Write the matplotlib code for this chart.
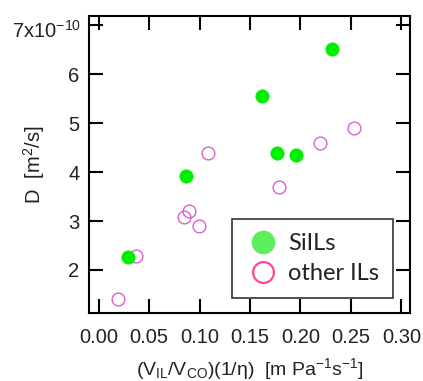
import matplotlib
matplotlib.use("Agg")
import matplotlib.pyplot as plt
from matplotlib.lines import Line2D
import matplotlib.transforms as mtransforms

# Data (D in units of 1e-10 m^2/s)
sils_x = [0.0294, 0.0865, 0.1617, 0.177, 0.196, 0.2317]
sils_y = [2.27, 3.92, 5.56, 4.39, 4.35, 6.52]
other_x = [0.019, 0.037, 0.0845, 0.090, 0.0997, 0.1086, 0.179, 0.2195, 0.2528]
other_y = [1.40, 2.29, 3.09, 3.20, 2.89, 4.39, 3.70, 4.59, 4.90]

x_ticks = [0.00, 0.05, 0.10, 0.15, 0.20, 0.25, 0.30]
x_tick_labels = ["0.00", "0.05", "0.10", "0.15", "0.20", "0.25", "0.30"]
y_ticks = [2, 3, 4, 5, 6, 7]
y_tick_labels = ["2", "3", "4", "5", "6", ""]
y_top_label = r"7x10$^{-10}$"

plt.rcParams['font.family'] = ['Liberation Sans', 'DejaVu Sans']
plt.rcParams['mathtext.fontset'] = 'custom'
plt.rcParams['mathtext.rm'] = 'Liberation Sans'
plt.rcParams['mathtext.it'] = 'Liberation Sans'
plt.rcParams['mathtext.default'] = 'regular'

fig = plt.figure(figsize=(4.23, 3.81), dpi=100)
ax = fig.add_axes([89/423, 1-313/381, 321/423, 297/381])

txt = '#222222'
ax.plot(other_x, other_y, 'o', ms=9.2, mfc='none', mec='#dd60c8', mew=1.0,
        linestyle='none', label='other ILs', zorder=2)
ax.plot(sils_x, sils_y, 'o', ms=9.6, mfc='#00ee00', mec='#00ee00', mew=0.5,
        linestyle='none', label='SiILs', zorder=3)

ax.set_xlim(-0.0095, 0.3085)
ax.set_ylim(1.12, 7.19)
ax.set_xticks(x_ticks)
ax.set_xticklabels(x_tick_labels)
ax.set_yticks(y_ticks)
ax.set_yticklabels(y_tick_labels)
ax.tick_params(direction='in', length=10, width=1.5, top=True, right=True,
               labelsize=14.5, colors='black', labelcolor=txt)
ax.tick_params(axis='x', pad=11)
ax.tick_params(axis='y', pad=7)
for s in ax.spines.values():
    s.set_linewidth(1.5)

trans = mtransforms.blended_transform_factory(ax.transAxes, ax.transData)
ax.annotate(y_top_label, xy=(0, y_ticks[-1]), xycoords=trans,
            xytext=(-5.6, -9.0), textcoords='offset points',
            ha='right', va='baseline', fontsize=14.5, color=txt,
            annotation_clip=False)

ax.set_xlabel(r'(V$_{IL}$/V$_{CO}$)(1/$\eta$)  [m Pa$^{-1}$s$^{-1}$]',
              fontsize=14, color=txt, labelpad=6.5)
ax.set_ylabel(r'D  [m$^2$/s]', fontsize=14.5, color=txt)
ax.yaxis.set_label_coords(-0.131, 0.5)

h1 = Line2D([], [], marker='o', ls='none', ms=16, mfc='#5cee5c', mec='#5cee5c')
h2 = Line2D([], [], marker='o', ls='none', ms=15, mfc='none', mec='#ff4499', mew=1.6)
leg = ax.legend([h1, h2], ['SiILs', 'other ILs'], loc='lower right',
                bbox_to_anchor=(0.947, 0.05), frameon=True, fancybox=False,
                edgecolor='black', prop={'family': 'Lato', 'size': 17},
                handletextpad=0.35, borderpad=0.6, labelspacing=0.38,
                handlelength=1.4, borderaxespad=0)
leg.get_frame().set_linewidth(1.2)
for t in leg.get_texts():
    t.set_color(txt)

fig.savefig('out.png', dpi=100)
